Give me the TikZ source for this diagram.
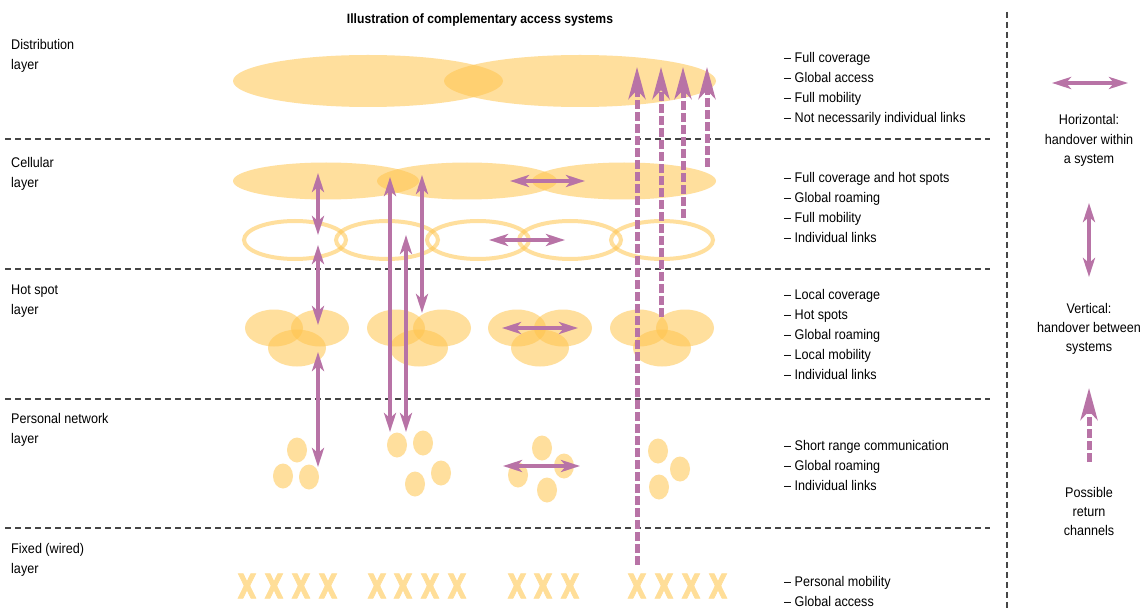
\documentclass[tikz,border=0pt]{standalone}
\usepackage{fontspec}
\usepackage{graphicx}
\setmainfont{Liberation Sans}[FakeStretch=0.9]
\newfontfamily\xfont{DejaVu Sans}[FakeStretch=0.72, BoldFeatures={FakeBold=2}]
\usetikzlibrary{arrows.meta}
\definecolor{purp}{RGB}{184,115,166}
\definecolor{orng}{RGB}{255,197,77}
\definecolor{xcol}{RGB}{255,222,152}
\definecolor{dgray}{RGB}{70,70,70}
\tikzset{
  stip/.tip={Stealth[length=19pt,width=12pt,inset=5pt]},
  dtip/.tip={Stealth[length=32pt,width=17pt,inset=9pt]},
}
\begin{document}
\begin{tikzpicture}[x=1pt,y=-1pt,
  txt/.style={font=\fontsize{14}{16}\selectfont, inner sep=0pt, yshift=-2.5pt},
  lay/.style={txt, anchor=mid west},
  leg/.style={txt, anchor=mid},
  sepline/.style={draw=dgray, line width=1.3pt, dash pattern=on 6pt off 4pt},
  blob/.style={fill=orng, fill opacity=0.55},
  ring/.style={draw=orng, draw opacity=0.55, line width=4pt},
  harr/.style={draw=purp, line width=4.5pt, stip-stip},
  varr/.style={draw=purp, line width=4pt, stip-stip},
  darr/.style={draw=purp, line width=5pt, dash pattern=on 9pt off 3pt, -dtip},
  xmark/.style={text=xcol, font=\xfont\fontsize{34}{34}\selectfont\bfseries, inner sep=0pt},
]
\fill[white] (0,0) rectangle (1147,612);
\useasboundingbox (0,0) rectangle (1147,612);

% title
\node[txt, font=\fontsize{13.5}{16}\selectfont\bfseries, anchor=mid] (title) at (480,18) {Illustration of complementary access systems};

% separators
\foreach \y [count=\i] in {139,269,399,528}{
  \coordinate (sl\i) at (5,\y);
  \coordinate (sr\i) at (990,\y);
  \draw[sepline] (sl\i) -- (sr\i);
}
\coordinate (vt) at (1007,12);
\coordinate (vb) at (1007,612);
\draw[sepline] (vt) -- (vb);

% layer labels
\node[lay] (l1a) at (11,44) {Distribution};
\node[lay] (l1b) at (11,64) {layer};
\node[lay] (l2a) at (11,162) {Cellular};
\node[lay] (l2b) at (11,182) {layer};
\node[lay] (l3a) at (11,289) {Hot spot};
\node[lay] (l3b) at (11,309) {layer};
\node[lay] (l4a) at (11,418) {Personal network};
\node[lay] (l4b) at (11,438) {layer};
\node[lay] (l5a) at (11,548) {Fixed (wired)};
\node[lay] (l5b) at (11,568) {layer};

% right column
\foreach \t [count=\i] in {Full coverage,Global access,Full mobility,Not necessarily individual links}
  \node[lay] (ga\i) at (784,{57+(\i-1)*20.2}) {\textendash\ \t};
\foreach \t [count=\i] in {Full coverage and hot spots,Global roaming,Full mobility,Individual links}
  \node[lay] (gb\i) at (784,{177+(\i-1)*20.2}) {\textendash\ \t};
\foreach \t [count=\i] in {Local coverage,Hot spots,Global roaming,Local mobility,Individual links}
  \node[lay] (gc\i) at (784,{294+(\i-1)*20.2}) {\textendash\ \t};
\foreach \t [count=\i] in {Short range communication,Global roaming,Individual links}
  \node[lay] (gd\i) at (784,{445+(\i-1)*20.2}) {\textendash\ \t};
\foreach \t [count=\i] in {Personal mobility,Global access}
  \node[lay] (ge\i) at (784,{581+(\i-1)*20.8}) {\textendash\ \t};

% legend text
\node[leg] (h1) at (1089,119) {Horizontal:};
\node[leg] (h2) at (1089,139) {handover within};
\node[leg] (h3) at (1089,158) {a system};
\node[leg] (v1) at (1089,308) {Vertical:};
\node[leg] (v2) at (1089,327) {handover between};
\node[leg] (v3) at (1089,346) {systems};
\node[leg] (p1) at (1089,492) {Possible};
\node[leg] (p2) at (1089,511) {return};
\node[leg] (p3) at (1089,530) {channels};

% distribution layer
\path[blob] (368,81) ellipse [x radius=135pt, y radius=26pt];
\path[blob] (580,81) ellipse [x radius=136pt, y radius=26pt];

% cellular layer
\path[blob] (326,181) ellipse [x radius=93pt, y radius=18.5pt];
\path[blob] (467,181) ellipse [x radius=90pt, y radius=18.5pt];
\path[blob] (624,181) ellipse [x radius=92pt, y radius=18.5pt];
\foreach \c in {295,387,478,570,662}
  \draw[ring] (\c,240) ellipse [x radius=51pt, y radius=19pt];

% hot spot layer
\foreach \c in {297,419,540,662}{
  \path[blob] (\c-23,328) ellipse [x radius=29pt, y radius=18.5pt];
  \path[blob] (\c+23,328) ellipse [x radius=29pt, y radius=18.5pt];
  \path[blob] (\c,348) ellipse [x radius=29pt, y radius=18.5pt];
}

% personal network layer
\foreach \p in {(297,450),(283,476),(309,477),
                (397,445),(423,443),(441,473),(415,484),
                (542,448),(518,475),(564,466),(547,490),
                (658,451),(680,469),(659,487)}
  \path[blob] \p ellipse [x radius=10pt, y radius=12.5pt];

% fixed layer
\foreach \x [count=\i] in {247,274,301,328,377,403,430,457,517,543,570,637,664,691,718}
  \node[xmark] (x\i) at (\x,586) {X};

% vertical handover arrows
\coordinate (a1) at (318,173); \coordinate (a2) at (318,235);
\coordinate (b1) at (318,245); \coordinate (b2) at (318,325);
\coordinate (c1) at (318,352); \coordinate (c2) at (318,467);
\coordinate (d1) at (390,177); \coordinate (d2) at (390,432);
\coordinate (e1) at (406,235); \coordinate (e2) at (406,432);
\coordinate (f1) at (422,175); \coordinate (f2) at (422,313);
\draw[varr] (a1) -- (a2);
\draw[varr] (b1) -- (b2);
\draw[varr] (c1) -- (c2);
\draw[varr] (d1) -- (d2);
\draw[varr] (e1) -- (e2);
\draw[varr] (f1) -- (f2);

% horizontal handover arrows
\coordinate (g1) at (510,181); \coordinate (g2) at (585,181);
\coordinate (hh1) at (489,240); \coordinate (hh2) at (565,240);
\coordinate (i1) at (502,328); \coordinate (i2) at (578,328);
\coordinate (j1) at (503,466); \coordinate (j2) at (580,466);
\draw[harr] (g1) -- (g2);
\draw[harr] (hh1) -- (hh2);
\draw[harr] (i1) -- (i2);
\draw[harr] (j1) -- (j2);

% return channels
\coordinate (r1s) at (637,565); \coordinate (r1e) at (637,67);
\coordinate (r2s) at (661,317); \coordinate (r2e) at (661,67);
\coordinate (r3s) at (683,218); \coordinate (r3e) at (683,67);
\coordinate (r4s) at (707,167); \coordinate (r4e) at (707,67);
\draw[darr] (r1s) -- (r1e);
\draw[darr] (r2s) -- (r2e);
\draw[darr] (r3s) -- (r3e);
\draw[darr] (r4s) -- (r4e);

% legend arrows
\coordinate (lh1) at (1052,83); \coordinate (lh2) at (1128,83);
\coordinate (lv1) at (1089,203); \coordinate (lv2) at (1089,277);
\coordinate (ld1) at (1089,462); \coordinate (ld2) at (1089,388);
\draw[harr] (lh1) -- (lh2);
\draw[varr] (lv1) -- (lv2);
\draw[darr] (ld1) -- (ld2);
\end{tikzpicture}
\end{document}
